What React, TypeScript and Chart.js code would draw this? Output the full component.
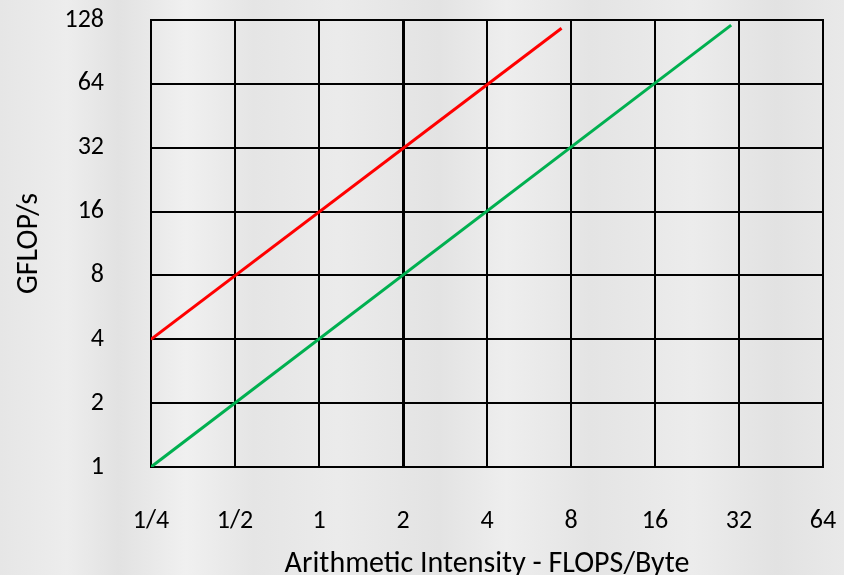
import React, { useEffect, useRef } from "react";
import { Chart, registerables } from "chart.js";

Chart.register(...registerables);

const xTickValues = [0.25, 0.5, 1, 2, 4, 8, 16, 32, 64];
const xTickLabels = ["1/4", "1/2", "1", "2", "4", "8", "16", "32", "64"];
const yTickValues = [1, 2, 4, 8, 16, 32, 64, 128];
const yTickLabels = ["1", "2", "4", "8", "16", "32", "64", "128"];

const redX = [0.25, 7.4];
const redY = [4, 117];
const greenX = [0.25, 30];
const greenY = [1, 121];

const FONT = "Carlito, Lato, 'Open Sans', sans-serif";

export default function App() {
  const ref = useRef<HTMLCanvasElement | null>(null);

  useEffect(() => {
    document.body.style.margin = "0";
    const canvas = ref.current;
    if (!canvas) return;
    const chart = new Chart(canvas, {
      type: "scatter",
      data: {
        datasets: [
          {
            label: "red",
            data: redX.map((x, i) => ({ x, y: redY[i] })),
            showLine: true,
            borderColor: "#ff0000",
            borderWidth: 3,
            pointRadius: 0,
          },
          {
            label: "green",
            data: greenX.map((x, i) => ({ x, y: greenY[i] })),
            showLine: true,
            borderColor: "#00b050",
            borderWidth: 3,
            pointRadius: 0,
          },
        ],
      },
      options: {
        responsive: false,
        animation: false,
        layout: { padding: { top: 20, right: 21, left: 0, bottom: 0 } },
        plugins: { legend: { display: false }, tooltip: { enabled: false } },
        scales: {
          x: {
            type: "logarithmic",
            min: 0.25,
            max: 64,
            afterBuildTicks: (scale: any) => {
              scale.ticks = xTickValues.map((v) => ({ value: v }));
            },
            afterFit: (scale: any) => {
              scale.height = 108;
              scale.paddingLeft = 0;
              scale.paddingRight = 0;
            },
            ticks: {
              autoSkip: false,
              maxRotation: 0,
              padding: 39,
              color: "#000",
              font: { family: FONT, size: 26 },
              callback: (v: any) => {
                const i = xTickValues.findIndex((t) => Math.abs(t - Number(v)) < 1e-9);
                return i >= 0 ? xTickLabels[i] : "";
              },
            },
            grid: {
              color: "#000",
              lineWidth: (ctx: any) => (ctx.tick && ctx.tick.value === 2 ? 3 : 2),
              drawTicks: false,
            },
            border: { display: true, color: "#000", width: 2 },
            title: {
              display: true,
              text: "Arithmetic Intensity - FLOPS/Byte",
              color: "#000",
              font: { family: FONT, size: 30 },
              padding: { top: 0, bottom: -7 },
            },
          },
          y: {
            type: "logarithmic",
            min: 1,
            max: 128,
            afterBuildTicks: (scale: any) => {
              scale.ticks = yTickValues.map((v) => ({ value: v }));
            },
            afterFit: (scale: any) => {
              scale.width = 151;
              scale.paddingTop = 0;
              scale.paddingBottom = 0;
            },
            ticks: {
              autoSkip: false,
              padding: 47,
              color: "#000",
              font: { family: FONT, size: 26 },
              callback: (v: any) => {
                const i = yTickValues.findIndex((t) => Math.abs(t - Number(v)) < 1e-9);
                return i >= 0 ? yTickLabels[i] : "";
              },
            },
            grid: { color: "#000", lineWidth: 2, drawTicks: false },
            border: { display: true, color: "#000", width: 2 },
            title: {
              display: true,
              text: "GFLOP/s",
              color: "#000",
              font: { family: FONT, size: 30 },
              padding: { top: 11, bottom: 0 },
            },
          },
        },
      },
      plugins: [
        {
          id: "rightTopBorder",
          afterDraw: (c: any) => {
            const { ctx, chartArea } = c;
            ctx.save();
            ctx.strokeStyle = "#000";
            ctx.lineWidth = 2;
            ctx.beginPath();
            ctx.moveTo(chartArea.left, chartArea.top);
            ctx.lineTo(chartArea.right, chartArea.top);
            ctx.lineTo(chartArea.right, chartArea.bottom);
            ctx.stroke();
            ctx.restore();
          },
        },
      ],
    });
    return () => chart.destroy();
  }, []);

  return (
    <div
      style={{
        position: "absolute",
        left: 0,
        top: 0,
        width: 844,
        height: 575,
        background:
          "linear-gradient(90deg, #e6e6e6 0%, #ededed 8%, #e2e2e2 14%, #f0f0f0 22%, #e5e5e5 30%, #ebebeb 40%, #e3e3e3 52%, #eeeeee 60%, #e4e4e4 70%, #ececec 82%, #e2e2e2 92%, #e9e9e9 100%)",
      }}
    >
      <canvas ref={ref} width={844} height={575} style={{ display: "block" }} />
    </div>
  );
}
